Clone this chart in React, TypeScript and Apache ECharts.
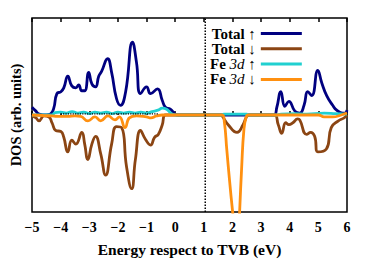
import React, { useEffect, useRef } from "react";
import * as echarts from "echarts";

const seriesNames = ["Total ↑", "Total ↓", "Fe 3d ↑", "Fe 3d ↓"];
const seriesColors = ["#000080", "#8B4513", "#20D0D0", "#FF9010"];

const totalUp: number[][] = [
  [-5, 0.8], [-4.88, 0.45], [-4.75, 0.1], [-4.5, 0], [-4.35, 0.1], [-4.24, 0.7], [-4.13, 2.2],
  [-3.99, 2.4], [-3.89, 2.8], [-3.75, 4.0], [-3.61, 3.0], [-3.47, 2.8], [-3.37, 3.1], [-3.26, 2.5],
  [-3.16, 2.5], [-3.02, 4.4], [-2.91, 3.2], [-2.78, 2.9], [-2.67, 4.0], [-2.57, 4.5], [-2.36, 5.8],
  [-2.22, 4.4], [-2.05, 1.7], [-1.91, 1.0], [-1.73, 2.4], [-1.49, 7.5], [-1.35, 5.4], [-1.21, 2.2],
  [-1.0, 2.9], [-0.86, 2.2], [-0.62, 2.7], [-0.45, 1.5], [-0.34, 0.8], [-0.17, 0.6], [0.0, 0.1],
  [0.1, 0], [3.45, 0], [3.55, 0.8], [3.69, 2.4], [3.83, 0.9], [3.97, 1.4], [4.18, 0.4], [4.35, 0.2],
  [4.5, 1.0], [4.63, 2.4], [4.77, 2.0], [4.98, 4.6], [5.12, 3.3], [5.29, 2.0], [5.5, 1.0],
  [5.64, 0.5], [5.85, 0.2], [5.93, 0.2], [6, 0.5],
];

const totalDown: number[][] = [
  [-5, -0.1], [-4.86, -0.3], [-4.76, -0.6], [-4.58, -0.1], [-4.41, -0.2], [-4.3, -0.8], [-4.17, -1.6],
  [-3.99, -1.7], [-3.89, -2.3], [-3.75, -3.8], [-3.61, -2.6], [-3.47, -3.0], [-3.26, -1.8],
  [-3.16, -3.0], [-3.05, -4.6], [-2.91, -3.0], [-2.78, -2.2], [-2.6, -4.0], [-2.43, -6.2],
  [-2.22, -3.0], [-2.05, -1.2], [-1.87, -1.3], [-1.7, -5.3], [-1.52, -7.6], [-1.39, -4.6],
  [-1.21, -1.6], [-1.04, -2.5], [-0.86, -3.1], [-0.72, -2.3], [-0.59, -2.0], [-0.45, -1.0],
  [-0.34, 0], [1.6, 0], [1.64, -0.1], [1.85, -1.0], [2.16, -1.8], [2.37, -1.0], [2.51, -0.1],
  [2.6, 0], [3.45, 0], [3.6, -1.0], [3.72, -1.9], [3.86, -0.8], [3.97, -1.0], [4.11, -0.8],
  [4.28, -0.4], [4.35, -0.5], [4.59, -2.0], [4.73, -1.8], [4.87, -2.2], [4.98, -3.8], [5.28, -3.5],
  [5.45, -1.3], [5.7, -0.6], [5.9, -0.3], [6, 0],
];

const feUp: number[][] = [
  [-5, 0], [-4.3, 0], [-4.2, 0.25], [-4.0, 0.3], [-3.8, 0.2], [-3.6, 0.35], [-3.4, 0.2], [-3.2, 0.3],
  [-3.0, 0.15], [-2.8, 0.3], [-2.6, 0.2], [-2.4, 0.3], [-2.2, 0.15], [-2.0, 0.3], [-1.8, 0.2],
  [-1.6, 0.3], [-1.4, 0.2], [-1.2, 0.3], [-1.0, 0.2], [-0.8, 0.35], [-0.6, 0.5], [-0.45, 0.7],
  [-0.3, 0.6], [-0.15, 0.2], [0, 0], [1.64, 0], [1.7, 0.1], [2.5, 0.1], [2.55, 0], [3.5, 0],
  [3.7, 0.1], [4.2, 0.15], [4.6, 0.1], [5.2, 0.2], [5.6, 0.15], [6, 0.1],
];

const feDown: number[][] = [
  [-5, 0], [-4.6, -0.05], [-4.3, -0.1], [-4.0, -0.15], [-3.75, -0.15], [-3.5, -0.1], [-3.3, -0.15],
  [-3.05, -0.6], [-2.8, -0.2], [-2.6, -0.6], [-2.35, -0.1], [-2.1, -0.5], [-1.95, -0.2],
  [-1.75, -1.3], [-1.6, -0.3], [-1.35, -0.1], [-1.0, -0.2], [-0.85, -0.3], [-0.65, -0.1],
  [-0.45, 0], [1.64, 0], [1.72, -0.8], [1.8, -3.5], [1.9, -6.8], [2.0, -9.8], [2.1, -12.5],
  [2.18, -14.4], [2.25, -10], [2.32, -5.5], [2.4, -1.5], [2.48, -0.2], [2.55, 0], [5.0, 0],
  [5.2, -0.2], [5.5, -0.2], [5.8, 0], [6, 0.2],
];

const zeroDots: number[][] = [[-4.0, 0.12], [-0.6, 0.12]];
const gapLine: number[][] = [[1.05, -10], [1.05, 10]];

const xMin = -5;
const xMax = 6;
const yMin = -10;
const yMax = 10;

const FONT = "Liberation Serif";

export default function App() {
  const ref = useRef<HTMLDivElement>(null);
  useEffect(() => {
    if (!ref.current) return;
    const chart = echarts.init(ref.current, undefined, { renderer: "svg" });
    const curves = [totalUp, totalDown, feUp, feDown];
    const fmtTick = (v: number) => (v < 0 ? "\u2212" + Math.abs(v) : String(v));
    chart.setOption({
      animation: false,
      textStyle: { fontFamily: FONT },
      grid: {
        left: 31, right: 27, top: 18, bottom: 46,
        show: true, borderColor: "#000", borderWidth: 1.5, backgroundColor: "transparent",
      },
      legend: {
        orient: "vertical",
        left: 210,
        top: 26,
        padding: 0,
        align: "right",
        itemWidth: 41,
        itemHeight: 3,
        itemGap: 0.3,
        data: seriesNames.map((n) => ({ name: n, icon: "rect" })),
        formatter: (name: string) => {
          const arrow = name.endsWith("↑") ? "↑" : "↓";
          if (name.startsWith("Fe")) return "{b|Fe }{i|3d}{a| " + arrow + "}";
          return "{b|Total}{a| " + arrow + "}";
        },
        textStyle: {
          fontFamily: FONT,
          fontSize: 15,
          lineHeight: 15,
          color: "#000",
          rich: {
            b: { fontFamily: FONT, fontSize: 15, fontWeight: "bold", color: "#000", lineHeight: 15 },
            i: { fontFamily: FONT, fontSize: 15, fontStyle: "italic", color: "#000", lineHeight: 15 },
            a: { fontFamily: FONT, fontSize: 15, color: "#000", lineHeight: 15 },
          },
        },
      },
      xAxis: [
        {
          type: "value", min: xMin, max: xMax, interval: 1,
          name: "Energy respect to TVB (eV)",
          nameLocation: "middle", nameGap: 29,
          nameTextStyle: { fontFamily: FONT, fontSize: 15.5, fontWeight: "bold", color: "#000" },
          axisLine: { show: false },
          axisTick: { inside: true, length: 4, lineStyle: { color: "#000", width: 1.5 } },
          axisLabel: { formatter: fmtTick, fontFamily: FONT, fontSize: 14, fontWeight: "bold", color: "#000", margin: 8 },
          splitLine: { show: false },
        },
        {
          type: "value", min: xMin, max: xMax, interval: 1, position: "top",
          axisLine: { show: false },
          axisTick: { inside: true, length: 4, lineStyle: { color: "#000", width: 1.5 } },
          axisLabel: { show: false },
          splitLine: { show: false },
        },
      ],
      yAxis: {
        type: "value", min: yMin, max: yMax,
        name: "DOS (arb. units)",
        nameLocation: "middle", nameGap: 9,
        nameTextStyle: { fontFamily: FONT, fontSize: 14.5, fontWeight: "bold", color: "#000" },
        axisLine: { show: false },
        axisTick: { show: false },
        axisLabel: { show: false },
        splitLine: { show: false },
      },
      series: [
        ...curves.map((d, i) => ({
          name: seriesNames[i],
          type: "line",
          data: d,
          smooth: 0.5,
          symbol: "none",
          color: seriesColors[i],
          lineStyle: { color: seriesColors[i], width: 2.8 },
          clip: true,
        })),
        {
          name: "zero",
          type: "line",
          data: zeroDots,
          symbol: "none",
          lineStyle: { color: "#000", width: 1.2, type: "dotted" },
        },
        {
          name: "gap",
          type: "line",
          data: gapLine,
          symbol: "none",
          lineStyle: { color: "#000", width: 1.5, type: "dotted" },
        },
      ],
    });
    return () => chart.dispose();
  }, []);
  return <div ref={ref} style={{ width: 374, height: 262, position: "absolute", left: 0, top: 0 }} />;
}
